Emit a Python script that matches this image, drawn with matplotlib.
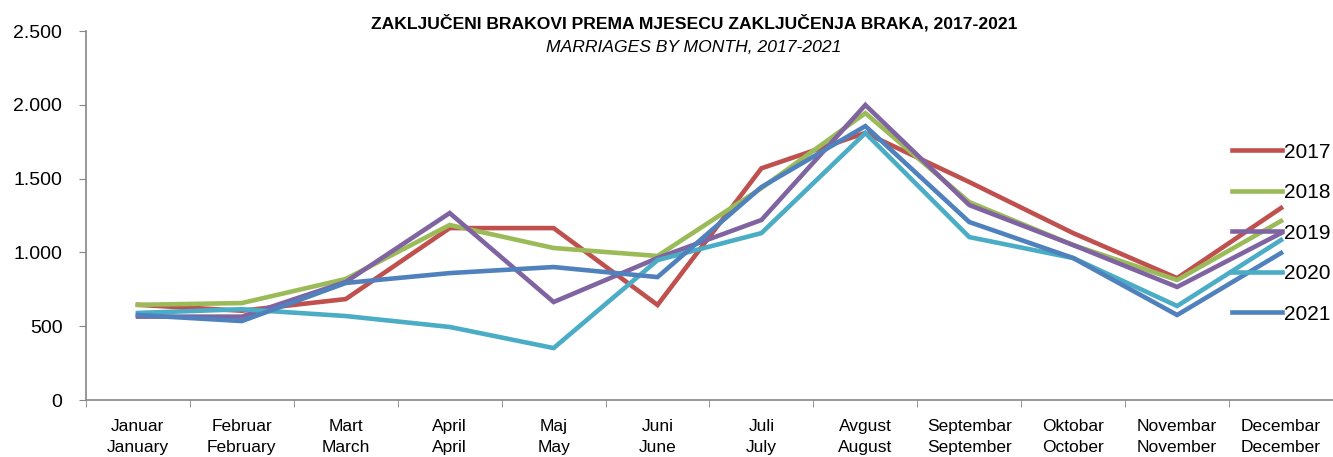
import matplotlib
matplotlib.use("Agg")
import matplotlib.pyplot as plt
from matplotlib.ticker import FuncFormatter

months_bs = ["Januar", "Februar", "Mart", "April", "Maj", "Juni", "Juli",
             "Avgust", "Septembar", "Oktobar", "Novembar", "Decembar"]
months_en = ["January", "February", "March", "April", "May", "June", "July",
             "August", "September", "October", "November", "December"]

y2017 = [645, 605, 684, 1165, 1165, 644, 1570, 1810, 1477, 1131, 826, 1301]
y2018 = [645, 657, 820, 1186, 1030, 976, 1436, 1944, 1341, 1050, 813, 1213]
y2019 = [565, 565, 800, 1267, 664, 962, 1220, 1999, 1321, 1050, 766, 1131]
y2020 = [590, 615, 569, 495, 352, 948, 1131, 1809, 1104, 962, 637, 1084]
y2021 = [576, 535, 793, 860, 901, 833, 1443, 1856, 1206, 962, 576, 996]

years = ["2017", "2018", "2019", "2020", "2021"]
colors = ["#C0504D", "#9BBB59", "#8064A2", "#4BACC6", "#4F81BD"]

plt.rcParams["font.family"] = ["Liberation Sans", "DejaVu Sans"]

fig = plt.figure(figsize=(13.33, 4.57), dpi=100)
ax = fig.add_axes([0.0645, 0.1247, 0.9355, 0.8073])

x = range(len(months_bs))
for vals, lab, c in zip([y2017, y2018, y2019, y2020, y2021], years, colors):
    ax.plot(x, vals, color=c, lw=3.3, label=lab, solid_joinstyle="miter")

ax.set_xlim(-0.5, 11.5)
ax.set_ylim(0, 2500)
ax.set_yticks([0, 500, 1000, 1500, 2000, 2500])
ax.yaxis.set_major_formatter(FuncFormatter(lambda v, p: f"{int(v):,}".replace(",", ".")))
ax.tick_params(axis="y", labelsize=14, length=5, color="#868686", pad=12)

ax.set_xticks(list(x))
ax.set_xticklabels([f"{a}\n{b}" for a, b in zip(months_bs, months_en)],
                   fontsize=12.5, linespacing=1.45)
ax.set_xticks([i - 0.5 for i in range(13)], minor=True)
ax.tick_params(axis="x", which="major", length=0, pad=14)
ax.tick_params(axis="x", which="minor", length=5, color="#868686")

for s in ["top", "right"]:
    ax.spines[s].set_visible(False)
for s in ["left", "bottom"]:
    ax.spines[s].set_color("#868686")
    ax.spines[s].set_linewidth(1.2)

fig.text(0.5205, 0.950, "ZAKLJUČENI BRAKOVI PREMA MJESECU ZAKLJUČENJA BRAKA, 2017-2021",
         ha="center", va="center", fontsize=12.6, fontweight="bold")
fig.text(0.5205, 0.897, "MARRIAGES BY MONTH, 2017-2021",
         ha="center", va="center", fontsize=12.6, style="italic")

ax.legend(loc="upper left", bbox_to_anchor=(0.912, 0.72), frameon=False,
          fontsize=15, handlelength=2.4, handletextpad=0.12, labelspacing=1.03,
          borderaxespad=0)

fig.savefig("out.png", dpi=100)
